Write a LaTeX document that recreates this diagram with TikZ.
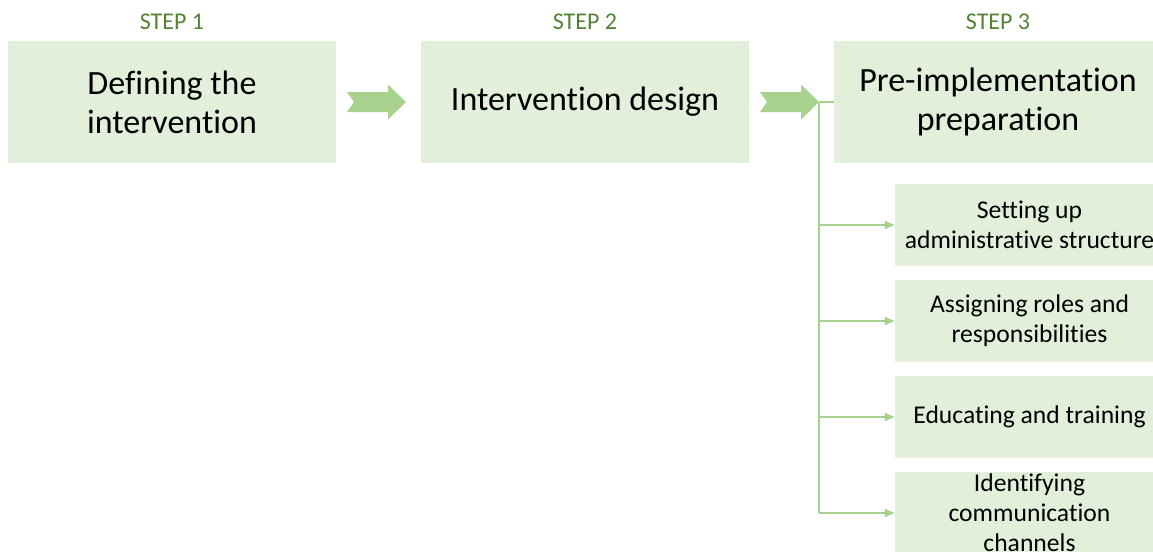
\documentclass[tikz,border=0pt]{standalone}
\usepackage{fontspec}
\setmainfont{Carlito}[RawFeature={-liga;-clig;-calt;-dlig;-rlig}]
\usetikzlibrary{arrows.meta}
\definecolor{boxgreen}{HTML}{E2EFDA}
\definecolor{arrowgreen}{HTML}{A9D18E}
\definecolor{stepgreen}{HTML}{548235}

\begin{document}
\begin{tikzpicture}[x=0.75pt, y=-0.75pt,
    mainbox/.style={fill=boxgreen, minimum width=246pt, minimum height=91.5pt, inner sep=0pt, align=center, font=\fontsize{25.5}{29}\selectfont},
    subbox/.style={fill=boxgreen, minimum width=201.75pt, minimum height=61.5pt, inner sep=0pt, align=center, font=\fontsize{19.2}{22.5}\selectfont},
    steplabel/.style={text=stepgreen, inner sep=0pt, font=\fontsize{18}{21}\selectfont},
    link/.style={draw=arrowgreen, line width=1.2pt},
    chevron/.pic={
      \fill[arrowgreen] (-29.5,-10) -- (11.5,-10) -- (11.5,-17.5) -- (29.5,0) -- (11.5,17.5) -- (11.5,10) -- (-29.5,10) -- (-22.5,0) -- cycle;
      \coordinate (-tip) at (29.5,0);
    }]
    \useasboundingbox (0,0) rectangle (1153,551);
    \clip (0,0) rectangle (1153,551);

    % steps
    \node[steplabel] (l1) at (172,22) {STEP 1};
    \node[steplabel] (l2) at (585,22) {STEP 2};
    \node[steplabel] (l3) at (998,22) {STEP 3};
    \node[mainbox] (d1) at (172,102) {Defining the\\intervention};
    \node[mainbox] (d2) at (585,102) {Intervention design};
    \node[mainbox] (d3) at (998,102) {Pre-implementation\\preparation};
    \pic (a1) at (376.5,102) {chevron};
    \pic (a2) at (789.5,102) {chevron};

    % sub-steps of step 3
    \node[subbox] (s1) at (1029.5,225) {Setting up\\administrative structure};
    \node[subbox] (s2) at (1029.5,321) {Assigning roles and\\responsibilities};
    \node[subbox] (s3) at (1029.5,417) {Educating and training};
    \node[subbox] (s4) at (1029.5,513) {Identifying\\communication\\channels};

    \draw[link] (a2-tip) -- (d3);
    \draw[link] (a2-tip) -- (a2-tip |- s4.west);
    \foreach \s in {s1,s2,s3,s4}
      \draw[link, -{Triangle[length=7.5pt, width=6pt]}] (a2-tip |- \s.west) -- (\s.west);
  \end{tikzpicture}
\end{document}
